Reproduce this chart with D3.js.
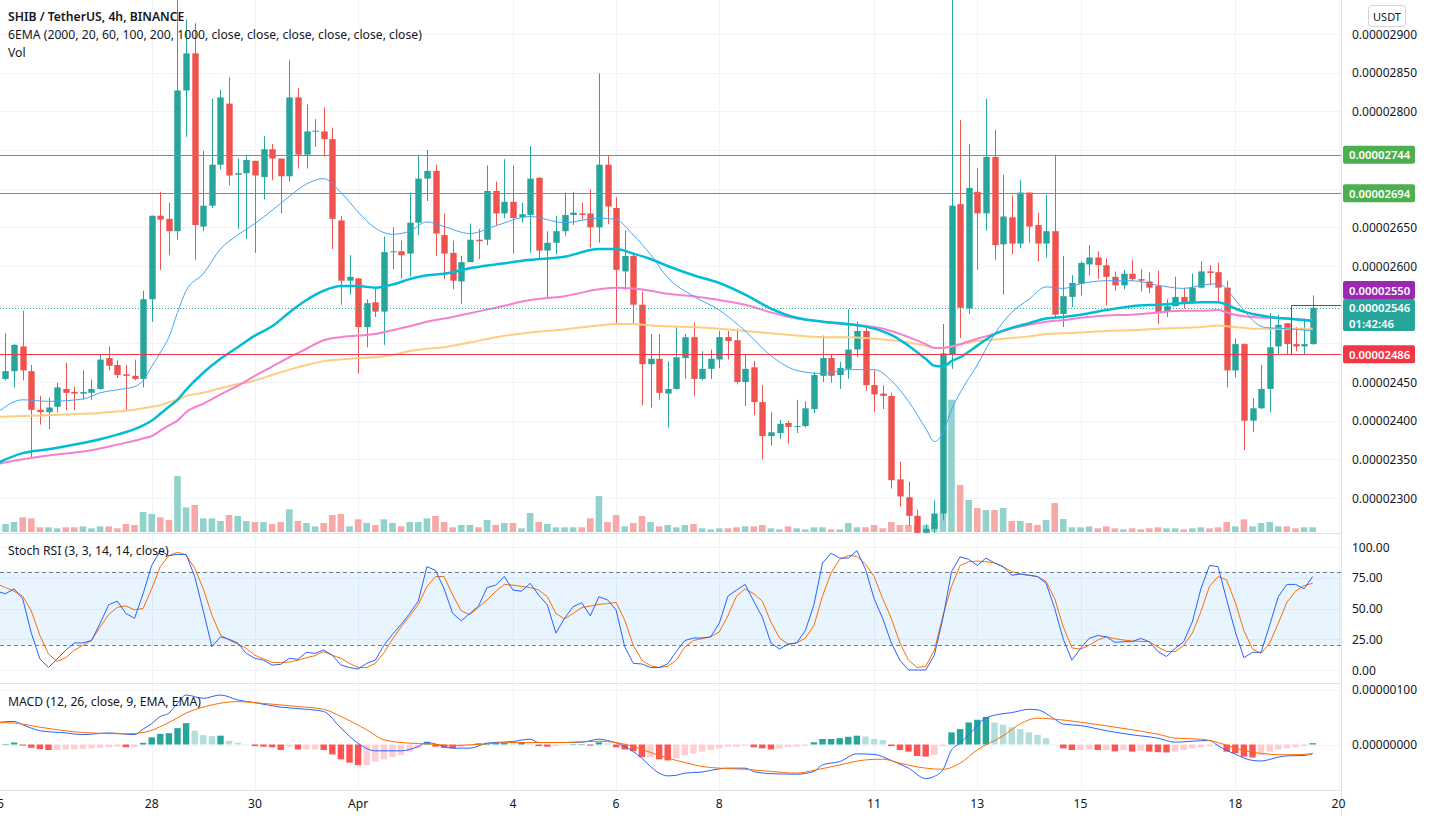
<!DOCTYPE html>
<html><head><meta charset="utf-8">
<script src="https://cdnjs.cloudflare.com/ajax/libs/d3/7.8.5/d3.min.js"></script>
<style>body{margin:0;background:#fff;}svg{display:block;font-family:"Noto Sans",sans-serif;}</style>
</head><body><svg id="c" width="1431" height="816"></svg>
<script>
// ---------- DATA (prices in units of 1e-8 USDT) ----------
const opens = [
2454,2464,2496,2464,2414,2411,2418,2441,2437,2435,
2436,2441,2481,2472,2460,2458,2454,2557,2665,2661,
2645,2827,2875,2651,2678,2731,2810,2718,2720,2736,
2715,2751,2739,2716,2818,2744,2774,2774,2764,2659,
2581,2584,2521,2553,2541,2618,2619,2616,2656,2713,
2723,2640,2617,2580,2605,2634,2634,2697,2668,2683,
2663,2666,2714,2620,2630,2645,2666,2668,2668,2650,
2731,2675,2593,2613,2550,2473,2480,2435,2441,2481,
2508,2454,2467,2479,2508,2504,2450,2469,2424,2380,
2384,2397,2392,2393,2415,2458,2481,2459,2467,2492,
2516,2446,2435,2432,2324,2301,2277,2255,2260,2280,
2486,2680,2545,2696,2668,2741,2628,2663,2629,2695,
2653,2629,2645,2538,2560,2577,2602,2611,2601,2586,
2575,2590,2583,2580,2574,2541,2548,2560,2552,2572,
2593,2592,2572,2465,2499,2400,2416,2441,2496,2526,
2499,2496,2499];
const highs = [
2513,2499,2542,2472,2432,2430,2449,2475,2444,2465,
2453,2486,2496,2478,2472,2479,2568,2665,2696,2682,
2960,2919,2914,2749,2816,2828,2844,2739,2742,2736,
2768,2758,2739,2866,2830,2809,2790,2805,2779,2665,
2614,2584,2557,2572,2638,2650,2633,2695,2744,2750,
2731,2668,2633,2613,2655,2648,2730,2709,2738,2730,
2682,2755,2715,2645,2665,2695,2696,2682,2699,2849,
2742,2689,2646,2617,2567,2512,2512,2477,2522,2512,
2527,2490,2492,2516,2516,2519,2485,2477,2446,2411,
2401,2400,2427,2425,2463,2510,2486,2476,2544,2528,
2523,2465,2446,2436,2347,2321,2285,2266,2297,2525,
2960,2789,2758,2727,2816,2776,2718,2691,2711,2695,
2669,2692,2744,2613,2588,2606,2627,2619,2610,2593,
2595,2608,2596,2592,2594,2557,2586,2572,2590,2606,
2601,2604,2581,2506,2500,2429,2472,2539,2537,2526,
2521,2532,2562];
const lows = [
2452,2443,2452,2353,2395,2389,2411,2414,2414,2427,
2427,2440,2465,2455,2414,2452,2443,2528,2595,2614,
2634,2767,2608,2645,2675,2725,2704,2648,2635,2617,
2686,2711,2668,2709,2726,2726,2754,2742,2622,2550,
2563,2461,2495,2534,2498,2596,2584,2586,2640,2684,
2613,2583,2570,2551,2605,2609,2627,2653,2662,2616,
2656,2617,2610,2558,2615,2639,2653,2660,2624,2630,
2654,2525,2569,2525,2420,2417,2427,2391,2440,2454,
2432,2452,2454,2468,2479,2447,2419,2407,2350,2368,
2376,2370,2384,2391,2410,2450,2449,2441,2454,2482,
2438,2411,2415,2312,2289,2264,2250,2248,2252,2271,
2467,2507,2538,2595,2646,2608,2563,2615,2623,2630,
2606,2611,2532,2521,2547,2562,2588,2583,2549,2568,
2570,2580,2567,2565,2525,2534,2548,2545,2551,2571,
2575,2552,2443,2456,2362,2385,2415,2411,2486,2486,
2490,2486,2498];
const closes = [
2464,2498,2465,2414,2411,2417,2443,2436,2435,2437,
2441,2479,2471,2459,2458,2454,2557,2665,2660,2645,
2827,2875,2653,2678,2731,2818,2717,2720,2737,2717,
2751,2739,2716,2818,2744,2774,2775,2764,2661,2581,
2586,2521,2552,2541,2618,2619,2614,2656,2713,2723,
2642,2616,2581,2605,2634,2632,2697,2668,2683,2662,
2667,2713,2620,2630,2645,2666,2669,2666,2650,2731,
2677,2595,2613,2550,2473,2480,2436,2441,2482,2508,
2454,2467,2480,2508,2503,2450,2467,2424,2380,2385,
2396,2392,2393,2416,2459,2481,2458,2468,2492,2516,
2446,2434,2432,2323,2302,2277,2255,2260,2280,2487,
2678,2546,2701,2668,2741,2627,2664,2629,2695,2651,
2629,2645,2537,2561,2578,2604,2611,2601,2586,2575,
2590,2583,2581,2572,2539,2548,2560,2552,2572,2593,
2591,2572,2465,2499,2400,2416,2441,2495,2524,2499,
2496,2499,2546];
const volumes = [
24,30,44,41,14,14,11,14,14,17,
11,17,17,11,24,21,60,54,44,36,
168,74,81,41,41,33,51,48,33,30,
30,24,30,68,33,27,17,27,51,54,
17,38,27,21,38,27,17,30,30,41,
48,30,14,21,21,14,36,21,27,27,
11,57,30,24,14,14,14,14,41,108,
30,51,17,27,48,30,17,21,14,21,
24,11,8,11,11,14,17,17,21,11,
8,17,11,8,14,14,8,8,27,14,
14,21,11,30,21,21,21,21,30,58,
397,141,96,72,66,66,72,33,33,27,
21,36,87,39,14,14,17,11,17,11,
8,11,8,11,14,11,11,8,11,14,
11,14,30,17,38,17,27,30,17,17,
11,14,14];
const firstCandle = 1; // candle index of the first value (index 0 = 25 Mar 00:00, 4h steps)

// EMA lines, read at these candle indices
const emaIdx = [0,3,6,10,12,14,16,17,18,19,20,21,22,24,26,28,30,32,34,36,38,40,42,44,46,48,50,52,55,58,62,66,70,72,74,76,78,81,84,87,90,93,96,99,102,104,106,108,109,110,111,112,114,116,118,120,122,124,126,129,132,135,138,140,142,143,144,145,146,147,148,150,153];
const ema20 = [2410,2427,2425,2428,2436,2440,2444,2452,2470,2488,2508,2540,2568,2590,2622,2640,2655,2672,2690,2706,2713,2695,2670,2649,2641,2645,2657,2651,2642,2652,2664,2656,2662,2660,2640,2615,2585,2561,2543,2516,2484,2465,2461,2466,2466,2452,2425,2390,2373,2384,2414,2436,2472,2512,2540,2557,2573,2571,2577,2581,2581,2575,2571,2575,2577,2570,2556,2543,2530,2522,2520,2519,2516];
const ema60 = [2345,2358,2363,2371,2376,2382,2389,2394,2400,2409,2418,2427,2440,2462,2480,2495,2510,2522,2540,2556,2568,2574,2574,2572,2576,2583,2588,2590,2597,2602,2608,2612,2622,2622,2616,2609,2600,2588,2578,2563,2545,2533,2528,2525,2519,2511,2497,2480,2471,2470,2477,2482,2497,2512,2520,2526,2532,2534,2537,2543,2548,2550,2552,2553,2553,2550,2545,2541,2538,2536,2534,2532,2529];
const ema100 = [2344,2350,2355,2360,2364,2369,2374,2377,2380,2387,2394,2400,2411,2422,2434,2445,2458,2470,2482,2493,2504,2508,2510,2512,2517,2522,2528,2532,2539,2546,2556,2561,2570,2572,2571,2568,2564,2561,2556,2550,2540,2532,2528,2524,2521,2516,2508,2499,2494,2494,2496,2499,2506,2512,2519,2524,2528,2530,2533,2536,2537,2540,2542,2542,2543,2540,2537,2535,2534,2533,2533,2532,2530];
const ema200 = [2405,2406,2407,2409,2410,2412,2414,2416,2418,2420,2424,2427,2432,2436,2442,2447,2452,2459,2466,2472,2477,2479,2481,2482,2485,2490,2493,2495,2501,2508,2514,2518,2523,2525,2525,2523,2522,2521,2519,2516,2513,2510,2508,2508,2506,2504,2501,2497,2494,2494,2496,2498,2503,2505,2507,2509,2512,2513,2514,2516,2517,2519,2520,2521,2523,2522,2521,2520,2519,2519,2519,2519,2519];

// Stoch RSI, one value per candle index 0..153
const stochK = [
64,62,66,58,30,9,2,9,16,22,
22,24,38,53,56,46,42,62,85,97,
93,94,94,76,48,19,27,25,22,13.5,
9.5,8,4,4.6,9.5,8.7,14.4,13.5,16.3,12,
4,2,0.8,5.4,8,20,29,37,46,56,
84,81,66,46,40,46,52,67,69,76,
65,64,70.5,61,53,30,42,51.5,54.7,44,
59.6,57,48.8,19,5.4,4.9,2,2,5,15,
24,26,26,27,38,60,65,69.6,56,43,
22,17,21,22,32,53,87,95,91,91,
97,82,58,42,22,8,0,0,0,12,
42,80,92,90,85,91,87,84,77,78,
77,76,70.5,50,25,8,17.6,25.7,28,27,
22.5,23,23,25.7,23,15,11,17.6,23,39,
66,85,84,57,31,10,14.4,14.4,36.6,59.6,
69.6,69.6,66,76];
const stochD = [
70,67,64,60,48,28,13,7,10,16,
20,24,35,45,51,52,49,50,66,84,
93,95.7,93.5,82.7,66,44.7,28.5,24.4,21,17.6,
12,9,6.2,6,6.5,8,10,11.7,15,12,
9.5,5.4,2,2,5.4,14,25,35,44,53,
67.8,76,76,61,48,45,51,57,64,69.6,
69,68,67,65,59.6,46,41.5,46,50.7,52,
53.4,54,55,40.6,20,8,3.5,2,3,8,
18.7,24,25.5,27,31,44,60,66,62,56,
39,26,21,22,26,36,60,79,90,93,
92.5,86,76,58,42,22,8,2,3,16,
44,68,85,88,88.6,88,87,84,80,78,
77,76,72,58,35,18,17,20,24.4,27,
25.5,24.4,23.6,23.3,23,18.7,15,15,20,30,
47.4,68,76,73,55,32,17,13.5,22,38,
55,64,68.6,70.5];

// MACD (units of 1e-8), line samples + histogram per candle 1..153
const macdIdx = [0,2,3,5,8,10,13,16,17,18,19,20,21,22,24,26,28,30,33,36,38,40,42,44,47,49,50,53,55,57,60,62,63,66,68,70,71,73,75,76,77,78,79,80,82,83,85,87,88,90,93,95,96,98,100,102,104,106,108,109,110,111,112,113,115,117,118,120,121,123,124,126,129,132,135,137,139,141,142,144,146,147,149,150,152,153];
const macdLine = [40,42,36,25,21,18,21,18,28,38,51,57,75,90,84,90,81,76,68,64,60,30,2,-11.5,-11.5,-3.6,3.6,-6.7,-6.7,2.4,5.5,9.7,3.6,3.6,4.2,9.7,7.3,-3.6,-25,-40,-52,-57,-56,-52,-50,-47,-43,-43,-49,-53,-54,-49,-37,-31,-17,-18,-29,-43,-62,-58,-46,-10,2.4,17.6,48,56,58,64,63,46,37,34.5,25,17.6,11.5,4.2,6,7.3,-2.4,-17.6,-29,-30,-23,-20.6,-20,-15.8];
const sigIdx = [0,2,5,10,15,17,20,22,25,28,30,33,35,38,40,43,45,48,50,53,55,58,60,66,70,72,74,76,78,80,82,84,87,90,93,95,98,101,103,105,108,110,112,114,117,119,121,123,126,129,132,135,137,140,142,144,146,148,150,153];
const signalLine = [40,39,31.5,21.8,19.4,21.8,40,57,72,78,76,72,69,64,51,26.7,8.5,2.4,1.2,-1.8,-0.6,2.4,3.6,3.6,6,3.6,-3.6,-14.5,-24.8,-32.7,-40,-43,-45,-49,-52,-47,-37,-28,-26.7,-34,-43,-45,-34,-9.7,15.8,37.6,48,46,40.6,34,26.7,18.8,11.5,9.7,3.6,-6.7,-14,-17.6,-18.8,-17];
const hist = [
1,3.6,-2,-6,-8.5,-10,-10,-9,-9,-8,
-7,-6,-5,-4,-5,-5,3,13,19.4,20.6,
29.7,38.8,25,17,15.2,16,6.7,3,0.5,-3,
-4,-5,-10,-4,-9,-9,-9,-10,-18,-27,
-33,-37.6,-37.6,-31,-27,-23,-19,-13,-7,5,
-4,-6,-7,-4,-2,2,3,3,3,2,
4,2,-3,-4,-3,-1,1,1,-2,4,
2,-5,-9,-12,-23,-23,-27,-29,-25,-20,
-16,-13,-10,-7,-4,-4,-2,-5,-7,-9,
-7,-5,-4,-2,4,10,10,11.5,14,16,
14.5,10,8,-3,-10,-13,-21,-22,-19,-3,
22,28,40,45,50,40,36,31,28,22,
17.5,11.5,0.5,-7,-10,-10,-9,-10,-10,-12.5,
-10,-13,-11.5,-13,-14,-14.5,-13,-10,-7,-5,
-3,-2,-13,-16,-22,-23.6,-19,-13,-9,-7,
-5,-3,2.4];

const dateLabels = ["25","28","30","Apr","4","6","8","11","13","15","18","20"];
const dateIdx = [0,18,30,42,60,72,84,102,114,126,144,156];
const priceTicks = [2300,2350,2400,2450,2500,2550,2600,2650,2700,2750,2800,2850,2900];
const stochTicks = [0,25,50,75,100];
const macdTicks = [0,100];
const hLines = [{v:2744,c:"#4caf50"},{v:2694,c:"#4caf50"},{v:2486,c:"#f23645"}];
const markLevel = 2550, markFromIdx = 150.5, markToLevel = 2486;
const lastPrice = 2546, countdown = "01:42:46";

// ---------- DRAW ----------
const W=1431, PR=1341, FONT='"Noto Sans",sans-serif';
const svg=d3.select('#c');
const x=d3.scaleLinear().domain([0,156]).range([-3.1,1338.5]);
const yP=d3.scaleLinear().domain([2300,2900]).range([498,34]);
const yV=d3.scaleLinear().domain([0,400]).range([532,398.7]);
const yS=d3.scaleLinear().domain([0,100]).range([670,547]);
const yM=d3.scaleLinear().domain([0,100]).range([744.5,689.5]);
const fmt = v => (v/1e8).toFixed(8);
const defs=svg.append('defs');
[['cp',0,533],['cs',533,150],['cm',683,107]].forEach(([id,y0,h])=>defs.append('clipPath').attr('id',id).append('rect').attr('x',0).attr('y',y0).attr('width',PR).attr('height',h));

const grid=svg.append('g').attr('stroke','#f0f3fa').attr('stroke-width',1);
dateIdx.forEach(i=>{const xx=Math.round(x(i))+0.5; grid.append('line').attr('x1',xx).attr('x2',xx).attr('y1',0).attr('y2',790);});
priceTicks.forEach(v=>{const yy=Math.round(yP(v))+0.5; grid.append('line').attr('x1',0).attr('x2',PR).attr('y1',yy).attr('y2',yy);});
stochTicks.forEach(v=>{const yy=Math.round(yS(v))+0.5; grid.append('line').attr('x1',0).attr('x2',PR).attr('y1',yy).attr('y2',yy);});
macdTicks.forEach(v=>{const yy=Math.round(yM(v))+0.5; grid.append('line').attr('x1',0).attr('x2',PR).attr('y1',yy).attr('y2',yy);});

// price pane
const gp=svg.append('g').attr('clip-path','url(#cp)');
const candles=opens.map((o,k)=>({i:k+firstCandle,o,h:highs[k],l:lows[k],c:closes[k],v:volumes[k]}));
gp.selectAll('rect.vol').data(candles).join('rect').attr('class','vol')
  .attr('x',d=>x(d.i)-3.3).attr('width',6.6).attr('y',d=>yV(d.v)).attr('height',d=>yV(0)-yV(d.v))
  .attr('fill',d=>d.c>=d.o?'#92d2cc':'#f7a9a7');
gp.selectAll('line.wick').data(candles).join('line').attr('class','wick')
  .attr('x1',d=>Math.round(x(d.i))+0.5).attr('x2',d=>Math.round(x(d.i))+0.5).attr('y1',d=>yP(d.h)).attr('y2',d=>yP(d.l))
  .attr('stroke',d=>d.c>=d.o?'#26a69a':'#ef5350').attr('stroke-width',1);
gp.selectAll('rect.body').data(candles).join('rect').attr('class','body')
  .attr('x',d=>Math.round(x(d.i))-2.7).attr('width',6.4)
  .attr('y',d=>yP(Math.max(d.o,d.c))).attr('height',d=>Math.max(1,Math.abs(yP(d.o)-yP(d.c))))
  .attr('fill',d=>d.c>=d.o?'#26a69a':'#ef5350');
const emaLine=d3.line().x(d=>x(d[0])).y(d=>yP(d[1])).curve(d3.curveMonotoneX);
[[ema200,'#ffcc80',2],[ema100,'#f77fcf',2],[ema60,'#00bcd4',2.5],[ema20,'#42a5f5',1]].forEach(([arr,col,w])=>{
  gp.append('path').attr('d',emaLine(emaIdx.map((k,j)=>[k,arr[j]]))).attr('fill','none').attr('stroke',col).attr('stroke-width',w);
});
// last price dotted line
gp.append('line').attr('x1',0).attr('x2',PR).attr('y1',Math.round(yP(lastPrice))+0.5).attr('y2',Math.round(yP(lastPrice))+0.5)
  .attr('stroke','#26a69a').attr('stroke-dasharray','1,2');
hLines.forEach(h=>{const yy=Math.round(yP(h.v))+0.5; svg.append('line').attr('x1',0).attr('x2',PR).attr('y1',yy).attr('y2',yy).attr('stroke',h.c).attr('stroke-width',1);});
svg.append('path').attr('d',`M${Math.round(x(markFromIdx))+0.5},${yP(markToLevel)}V${Math.round(yP(markLevel))+0.5}H${PR}`)
  .attr('fill','none').attr('stroke','#9c27b0').attr('stroke-width',1);

// stoch pane
const gs=svg.append('g').attr('clip-path','url(#cs)');
gs.append('rect').attr('x',0).attr('width',PR).attr('y',yS(80)).attr('height',yS(20)-yS(80)).attr('fill','rgba(33,150,243,0.1)');
[80,20].forEach(v=>gs.append('line').attr('x1',0).attr('x2',PR).attr('y1',Math.round(yS(v))+0.5).attr('y2',Math.round(yS(v))+0.5).attr('stroke','#787b86').attr('stroke-dasharray','4,3'));
const sLine=d3.line().x((d,k)=>x(k)).y(d=>yS(d));
gs.append('path').attr('d',sLine(stochD)).attr('fill','none').attr('stroke','#ff6d00').attr('stroke-width',1);
gs.append('path').attr('d',sLine(stochK)).attr('fill','none').attr('stroke','#2962ff').attr('stroke-width',1);

// macd pane
const gm=svg.append('g').attr('clip-path','url(#cm)');
gm.selectAll('rect.h').data(hist).join('rect').attr('class','h')
  .attr('x',(d,k)=>x(k+firstCandle)-3.2).attr('width',6.4)
  .attr('y',d=>yM(Math.max(0,d))).attr('height',d=>Math.abs(yM(d)-yM(0)))
  .attr('fill',(d,k)=>{const p=k>0?hist[k-1]:d; return d>=0?(d>=p?'#26a69a':'#b2dfdb'):(d<p?'#ff5252':'#ffcdd2');});
const mLine=d3.line().x(d=>x(d[0])).y(d=>yM(d[1])).curve(d3.curveMonotoneX);
gm.append('path').attr('d',mLine(macdIdx.map((k,j)=>[k,macdLine[j]]))).attr('fill','none').attr('stroke','#2962ff').attr('stroke-width',1);
gm.append('path').attr('d',mLine(sigIdx.map((k,j)=>[k,signalLine[j]]))).attr('fill','none').attr('stroke','#ff6d00').attr('stroke-width',1);

// separators and axes borders
const sep=svg.append('g').attr('stroke','#e0e3eb');
[533.5,683.5,790.5].forEach(yy=>sep.append('line').attr('x1',0).attr('x2',PR).attr('y1',yy).attr('y2',yy));
sep.append('line').attr('x1',PR+0.5).attr('x2',PR+0.5).attr('y1',0).attr('y2',816);

// text
const T=(t,xx,yy,o={})=>svg.append('text').text(t).attr('x',xx).attr('y',yy).attr('font-size',o.s||12.2).attr('fill',o.f||'#131722')
  .attr('font-weight',o.w||400).attr('text-anchor',o.a||'start').attr('dominant-baseline','central').attr('font-family',FONT);
T('SHIB / TetherUS, 4h, BINANCE',8,16,{s:12.2,w:600});
T('6EMA (2000, 20, 60, 100, 200, 1000, close, close, close, close, close, close)',8,34,{s:12.2});
T('Vol',8,52,{s:12.2});
T('Stoch RSI (3, 3, 14, 14, close)',8,550,{s:12.2});
T('MACD (12, 26, close, 9, EMA, EMA)',8,701,{s:12.2});
dateLabels.forEach((l,k)=>T(l,x(dateIdx[k]),803,{a:'middle',s:12.2}));

// price axis labels (hidden where a coloured label sits)
const busy=[yP(2744),yP(2694),291,314,yP(2486)];
priceTicks.forEach(v=>{const yy=yP(v); if(busy.every(b=>Math.abs(b-yy)>13)) T(fmt(v),1352,yy,{s:12});});
stochTicks.forEach(v=>T(v.toFixed(2),1352,yS(v),{s:12}));
macdTicks.forEach(v=>T(fmt(v),1352,yM(v),{s:12}));

const tag=(y0,h,col,lines)=>{svg.append('rect').attr('x',1343).attr('y',y0).attr('width',72).attr('height',h).attr('rx',2).attr('fill',col);
  lines.forEach((t,k)=>T(t,1349,y0+h/(2*lines.length)+k*(h/lines.length),{s:11.3,f:'#fff',w:600}));};
tag(yP(2744)-9,18,'#4caf50',[fmt(2744)]);
tag(yP(2694)-9,18,'#4caf50',[fmt(2694)]);
tag(281,18,'#9c27b0',[fmt(markLevel)]);
tag(299,32,'#26a69a',[fmt(lastPrice),countdown]);
tag(yP(2486)-9,18,'#f23645',[fmt(2486)]);
svg.append('rect').attr('x',1368.5).attr('y',5.5).attr('width',37).attr('height',21).attr('rx',3).attr('fill','#fff').attr('stroke','#d1d4dc');
T('USDT',1387,16,{s:11,a:'middle'});
</script></body></html>
